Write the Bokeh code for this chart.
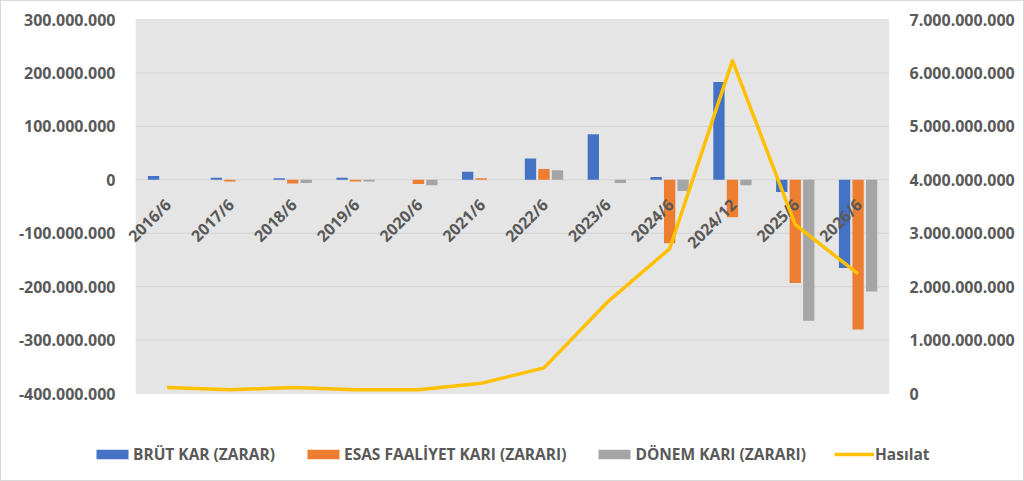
from math import pi
from bokeh.plotting import figure
from bokeh.layouts import column
from bokeh.models import (ColumnDataSource, Range1d, LinearAxis, FixedTicker,
                          CustomJSTickFormatter, Legend, LegendItem, BoxAnnotation)
from bokeh.core.properties import value
from bokeh.transform import dodge
from bokeh.embed import file_html
from bokeh.resources import INLINE

# data (TL)
periods = ["2016/6", "2017/6", "2018/6", "2019/6", "2020/6", "2021/6",
           "2022/6", "2023/6", "2024/6", "2024/12", "2025/6", "2026/6"]
brut_kar = [7e6, 4e6, 3e6, 4e6, 0, 15e6, 40e6, 85e6, 5e6, 183e6, -23e6, -165e6]
esas_faaliyet = [0, -3e6, -7e6, -3e6, -8e6, 3e6, 20e6, 0, -119e6, -70e6, -193e6, -280e6]
donem_kari = [0, 0, -6e6, -3e6, -10e6, 0, 18e6, -6e6, -21e6, -10e6, -264e6, -209e6]
hasilat = [0.11e9, 0.07e9, 0.11e9, 0.07e9, 0.07e9, 0.19e9, 0.48e9, 1.70e9,
           2.71e9, 6.23e9, 3.16e9, 2.24e9]

left_ticks = [-400e6, -300e6, -200e6, -100e6, 0, 100e6, 200e6, 300e6]
right_ticks = [0, 1e9, 2e9, 3e9, 4e9, 5e9, 6e9, 7e9]

series_names = ["BRÜT KAR (ZARAR)", "ESAS FAALİYET KARI (ZARARI)",
                "DÖNEM KARI (ZARARI)", "Hasılat"]
colors = ["#4472c4", "#ed7d31", "#a5a5a5", "#ffc000"]

n = len(periods)
source = ColumnDataSource(dict(
    x=[i + 0.5 for i in range(n)],
    zero=[0] * n,
    period=periods,
    brut=brut_kar,
    esas=esas_faaliyet,
    donem=donem_kari,
    hasilat=hasilat,
))

FONT = "Open Sans"
TXT = "#595959"
W = 1022
PAD = 0.13   # a little room left of the plot area so the first label is not clipped

p = figure(width=W, height=404, output_backend="svg", toolbar_location=None,
           x_range=Range1d(-PAD, n), y_range=Range1d(-400e6, 300e6),
           x_axis_location=None, y_axis_location="left",
           min_border_left=126, min_border_right=134,
           min_border_top=18, min_border_bottom=12)
p.frame_align = False
p.background_fill_color = "white"
p.border_fill_color = "white"
p.outline_line_color = None
p.grid.visible = False

# grey plot area and gridlines only over the category span
p.add_layout(BoxAnnotation(left=0, right=n, bottom=-400e6, top=300e6,
                           fill_color="#e5e5e5", fill_alpha=1, line_color=None,
                           level="underlay"))
p.segment(x0=[0] * len(left_ticks), x1=[n] * len(left_ticks),
          y0=left_ticks, y1=left_ticks, line_color="#d4d4d4", line_width=1)

p.extra_y_ranges = {"right": Range1d(0, 7e9)}

fmt = CustomJSTickFormatter(code="""
    return Math.round(tick).toString().replace(/\\B(?=(\\d{3})+(?!\\d))/g, ".");
""")

def style_axis(ax, standoff):
    ax.axis_line_color = None
    ax.major_tick_line_color = None
    ax.minor_tick_line_color = None
    ax.major_label_text_font = FONT
    ax.major_label_text_font_style = "bold"
    ax.major_label_text_font_size = "16px"
    ax.major_label_text_color = TXT
    ax.major_label_standoff = standoff
    ax.formatter = fmt

style_axis(p.yaxis[0], 6)
p.yaxis[0].ticker = FixedTicker(ticks=left_ticks)

right_axis = LinearAxis(y_range_name="right", ticker=FixedTicker(ticks=right_ticks))
style_axis(right_axis, 14)
p.add_layout(right_axis, "right")

bw = 0.18
p.vbar(x=dodge("x", -0.215), top="brut", bottom=0, width=bw, source=source,
       fill_color=colors[0], line_color=None)
p.vbar(x=dodge("x", 0.0), top="esas", bottom=0, width=bw, source=source,
       fill_color=colors[1], line_color=None)
p.vbar(x=dodge("x", 0.215), top="donem", bottom=0, width=bw, source=source,
       fill_color=colors[2], line_color=None)

# category labels, rotated and hanging under the zero line
p.text(x="x", y="zero", text="period", source=source, angle=pi / 4,
       text_align="right", text_baseline="middle", x_offset=1, y_offset=22,
       text_font=value(FONT), text_font_style="bold", text_font_size="16px",
       text_color=TXT)

p.line(x="x", y="hasilat", source=source, y_range_name="right",
       line_color=colors[3], line_width=3.5, line_join="round")

# legend strip under the chart (its sample glyphs sit off-screen)
lf = figure(width=W, height=75, output_backend="svg", toolbar_location=None,
            x_range=Range1d(0, 1), y_range=Range1d(0, 1),
            x_axis_location=None, y_axis_location=None,
            min_border=0)
lf.frame_align = False
lf.outline_line_color = None
lf.grid.visible = False
lf.background_fill_color = "white"
lf.border_fill_color = "white"

offscreen = ColumnDataSource(dict(x=[-5, -4], y=[-5, -4]))
lr = [lf.vbar(x="x", top="y", width=0.1, source=offscreen, fill_color=c, line_color=None)
      for c in colors[:3]]
lr.append(lf.line(x="x", y="y", source=offscreen, line_color=colors[3], line_width=3.5))

legend = Legend(items=[LegendItem(label=s, renderers=[r]) for s, r in zip(series_names, lr)],
                orientation="horizontal", location=(91, 15),
                glyph_width=40, glyph_height=12, label_standoff=1, spacing=28,
                padding=0, margin=0, border_line_color=None, background_fill_alpha=0,
                label_text_font=FONT, label_text_font_style="bold",
                label_text_font_size="15.5px", label_text_color=TXT)
lf.add_layout(legend, "center")

layout = column(p, lf, spacing=0)
layout.styles = {"border": "1px solid #d9d9d9"}

open("out.html", "w").write(file_html(layout, INLINE))
